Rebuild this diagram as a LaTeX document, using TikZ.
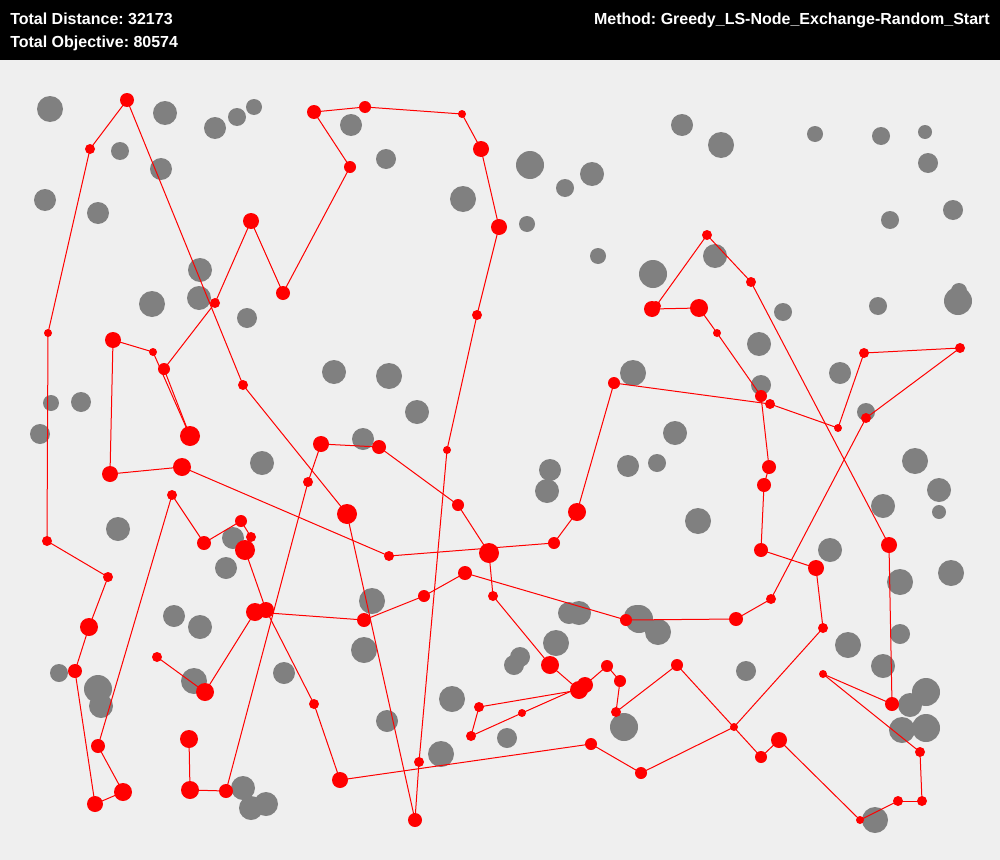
\documentclass[tikz,border=0pt]{standalone}
\usepackage{fontspec}
\setmainfont{Liberation Sans}
\frenchspacing
\definecolor{bgc}{RGB}{239,239,239}
\definecolor{grayc}{RGB}{128,128,128}
\definecolor{redc}{RGB}{255,0,0}
\begin{document}
\begin{tikzpicture}[x=0.75pt,y=-0.75pt,
  graydot/.style={circle,fill=grayc,inner sep=0pt,draw=none},
  reddot/.style={circle,fill=redc,inner sep=0pt,draw=none},
  tour/.style={draw=redc,line width=0.75pt},
  hdr/.style={text=white,font=\bfseries\fontsize{12}{14}\selectfont\frenchspacing,inner sep=0pt}]
\fill[bgc] (0,0) rectangle (1000,860);
\fill[black] (0,0) rectangle (1000,60);
\node[hdr,anchor=base west] (t1) at (10,25) {Total Distance: 32173};
\node[hdr,anchor=base west] (t2) at (10,47) {Total Objective: 80574};
\node[hdr,anchor=base east] (t3) at (990,25) {Method: Greedy\_LS-Node\_Exchange-Random\_Start};
% gray nodes
\foreach \x/\y/\r [count=\i] in {50/109/13, 165/113/12, 215/128/11, 237/117/9, 254/107/8, 120/151/9, 161/169/11, 45/200/11, 98/213/11, 200/270/12, 199/298/12, 152/304/13, 247/318/10, 351/125/11, 386/159/10, 463/199/13, 682/125/11, 721/145/13, 530/165/14, 565/188/9, 592/174/12, 527/224/8, 598/256/8, 653/274/14, 715/256/12, 815/134/8, 881/136/9, 925/132/7, 928/163/10, 953/210/10, 890/220/9, 783/312/9, 878/306/9, 958/301/14, 959/291/8, 51/403/8, 81/402/10, 40/434/10, 118/529/12, 233/538/11, 226/568/11, 262/463/12, 334/372/12, 389/376/13, 417/412/12, 363/439/11, 372/601/13, 633/373/13, 675/433/12, 628/466/11, 657/463/9, 550/470/11, 547/491/12, 698/521/13, 759/344/12, 761/385/10, 840/373/11, 866/412/9, 915/461/13, 939/490/12, 939/512/7, 883/506/12, 830/550/12, 900/582/13, 951/573/13, 174/616/11, 200/627/12, 59/673/9, 98/689/14, 101/706/12, 194/681/13, 243/788/12, 251/808/12, 266/804/12, 364/650/13, 284/673/11, 387/721/11, 452/699/13, 441/754/13, 579/613/12, 569/613/11, 636/617/12, 639/619/14, 658/632/13, 556/643/13, 520/657/10, 514/665/10, 507/738/10, 624/727/14, 746/671/10, 848/645/13, 883/666/12, 900/634/10, 926/692/14, 910/705/12, 902/730/13, 926/728/14, 875/820/13}
  {\node[graydot,minimum size={\r*1.5pt}] (g\i) at (\x,\y) {};}
% red tour positions
\def\redlist{157/657/5, 205/692/9, 255/612/9, 364/620/7, 424/596/6, 465/573/7, 626/620/6, 736/619/7, 771/599/5, 866/418/5, 960/348/5, 864/353/5, 838/428/4, 770/404/5, 614/383/6, 577/512/9, 554/543/6, 389/556/5, 182/467/9, 110/474/8, 113/340/8, 153/352/4, 190/436/10, 164/369/6, 215/303/5, 251/221/8, 283/293/7, 350/167/6, 314/112/7, 365/107/6, 462/114/4, 481/149/8, 499/227/8, 477/315/5, 447/450/4, 419/762/5, 415/820/7, 347/514/10, 243/385/5, 127/100/7, 90/149/5, 48/333/4, 47/541/5, 108/577/5, 89/627/9, 75/671/7, 95/804/8, 123/792/9, 98/746/7, 172/495/5, 204/543/7, 241/521/6, 251/537/5, 245/550/10, 266/610/8, 314/704/5, 340/780/8, 591/744/6, 641/773/6, 734/727/4, 823/628/5, 816/568/8, 761/550/7, 764/485/7, 769/467/7, 761/396/6, 717/333/4, 699/308/9, 652/309/8, 656/306/5, 707/235/5, 751/282/5, 889/545/8, 892/704/7, 823/674/4, 920/752/5, 922/801/5, 898/801/5, 860/820/4, 779/740/8, 761/757/6, 677/665/6, 616/712/5, 620/681/6, 607/666/6, 585/685/8, 522/713/4, 471/736/5, 479/707/5, 579/690/9, 550/665/9, 493/596/5, 489/553/10, 458/505/6, 379/447/7, 321/444/8, 308/482/5, 226/791/7, 190/790/9, 189/739/9}
\foreach \x/\y/\r [count=\i] in \redlist {\coordinate (c\i) at (\x,\y);}
\foreach \i [evaluate=\i as \j using int(\i+1)] in {1,...,99}
  {\draw[tour] (c\i) -- (c\j);}
\foreach \x/\y/\r [count=\i] in \redlist
  {\node[reddot,minimum size={\r*1.5pt}] (r\i) at (c\i) {};}
\end{tikzpicture}
\end{document}
